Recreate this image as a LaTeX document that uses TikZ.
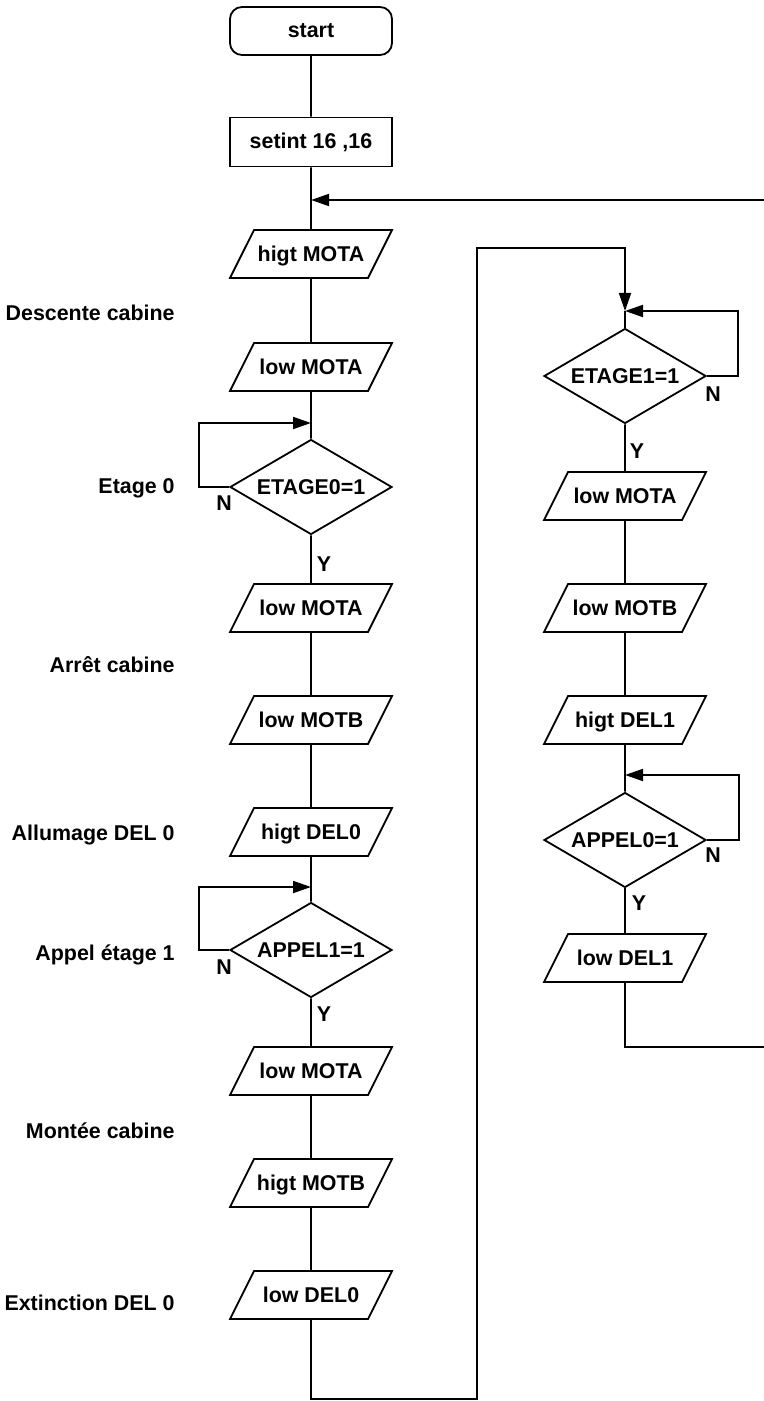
\documentclass[tikz,border=0pt]{standalone}
\usepackage{fontspec}
\setmainfont{Liberation Sans}
\usepackage{tikz}
\usetikzlibrary{
  arrows.meta,
  calc,
  positioning,
  shapes.geometric
}
\tikzset{>={Triangle[length=9pt,width=6pt]}}
\tikzset{
  chartfont/.style={font=\fontsize{10.7}{13}\selectfont\bfseries},
  block/.style={draw, line width=0.9pt, chartfont, inner sep=0pt},
  startbox/.style={block, rounded corners=6pt, minimum width=81pt, minimum height=24pt},
  procbox/.style={block, minimum width=81pt, minimum height=24.5pt},
  iobox/.style={block, trapezium, trapezium left angle=63.43, trapezium right angle=116.57,
    trapezium stretches body=true, text height=7.8pt, text depth=0pt,
    inner xsep=0pt, inner ysep=8.1pt, minimum width=81pt, minimum height=24pt},
  testbox/.style={block, diamond, aspect=1.7, minimum width=81pt, minimum height=47.5pt},
  sidelabel/.style={chartfont, anchor=base east, inner sep=0pt},
  yn/.style={chartfont, anchor=base, inner sep=0pt},
  link/.style={line width=0.9pt},
  arr/.style={link, ->}
}

\begin{document}
\begin{tikzpicture}[x=0.5pt, y=-0.5pt]
  \clip (0,0) rectangle (764,1401);

  \node[startbox] (start) at (311,31) {start};
  \node[procbox] (init) at (311,142) {setint 16 ,16};
  \node[iobox] (hmota) at (311,254) {higt MOTA};
  \node[iobox] (lmota1) at (311,367) {low MOTA};
  \node[testbox] (e0) at (311,487) {ETAGE0=1};
  \node[iobox] (lmota2) at (311,608) {low MOTA};
  \node[iobox] (lmotb1) at (311,720) {low MOTB};
  \node[iobox] (hdel0) at (311,832) {higt DEL0};
  \node[testbox] (a1) at (311,950) {APPEL1=1};
  \node[iobox] (lmota3) at (311,1071) {low MOTA};
  \node[iobox] (hmotb) at (311,1183) {higt MOTB};
  \node[iobox] (ldel0) at (311,1295) {low DEL0};

  \node[testbox] (e1) at (625,376) {ETAGE1=1};
  \node[iobox] (lmota4) at (625,496) {low MOTA};
  \node[iobox] (lmotb2) at (625,608) {low MOTB};
  \node[iobox] (hdel1) at (625,720) {higt DEL1};
  \node[testbox] (a0) at (625,840) {APPEL0=1};
  \node[iobox] (ldel1) at (625,958) {low DEL1};

  \node[sidelabel] (c1) at (175,321) {Descente cabine};
  \node[sidelabel] (c2) at (175,493) {Etage 0};
  \node[sidelabel] (c3) at (175,672) {Arrêt cabine};
  \node[sidelabel] (c4) at (175,840) {Allumage DEL 0};
  \node[sidelabel] (c5) at (175,960) {Appel étage 1};
  \node[sidelabel] (c6) at (175,1138) {Montée cabine};
  \node[sidelabel] (c7) at (175,1310) {Extinction DEL 0};

  \node[yn] (n0) at (224,510) {N};
  \node[yn] (y0) at (324,571) {Y};
  \node[yn] (n1) at (224,974) {N};
  \node[yn] (y1) at (324,1021) {Y};
  \node[yn] (n2) at (713,401) {N};
  \node[yn] (y2) at (637,458) {Y};
  \node[yn] (n3) at (713,862) {N};
  \node[yn] (y3) at (639,910) {Y};

  \coordinate (j0) at (311,423);
  \coordinate (l0) at (199,423);
  \coordinate (j1) at (311,887);
  \coordinate (l1) at (199,887);
  \coordinate (j2) at (625,311);
  \coordinate (l2) at (738,311);
  \coordinate (j3) at (625,775);
  \coordinate (l3) at (739,775);
  \coordinate (j4) at (311,200);
  \coordinate (r0) at (477,1399);
  \coordinate (t0) at (625,248);
  \coordinate (r1) at (800,1047);

  \draw[link] (start) -- (init) -- (hmota) -- (lmota1) -- (e0);
  \draw[link] (e0) -- (lmota2) -- (lmotb1) -- (hdel0) -- (a1);
  \draw[link] (a1) -- (lmota3) -- (hmotb) -- (ldel0);
  \draw[link] (j2) -- (e1);
  \draw[link] (e1) -- (lmota4) -- (lmotb2) -- (hdel1) -- (a0);
  \draw[link] (a0) -- (ldel1);

  \draw[arr] (e0.west) -| (l0) -- (j0);
  \draw[arr] (a1.west) -| (l1) -- (j1);
  \draw[arr] (e1.east) -| (l2) -- (j2);
  \draw[arr] (a0.east) -| (l3) -- (j3);
  \draw[arr] (ldel0.south) |- (r0) |- (t0) -- (j2);
  \draw[arr] (ldel1.south) |- (r1) |- (j4);
\end{tikzpicture}
\end{document}
